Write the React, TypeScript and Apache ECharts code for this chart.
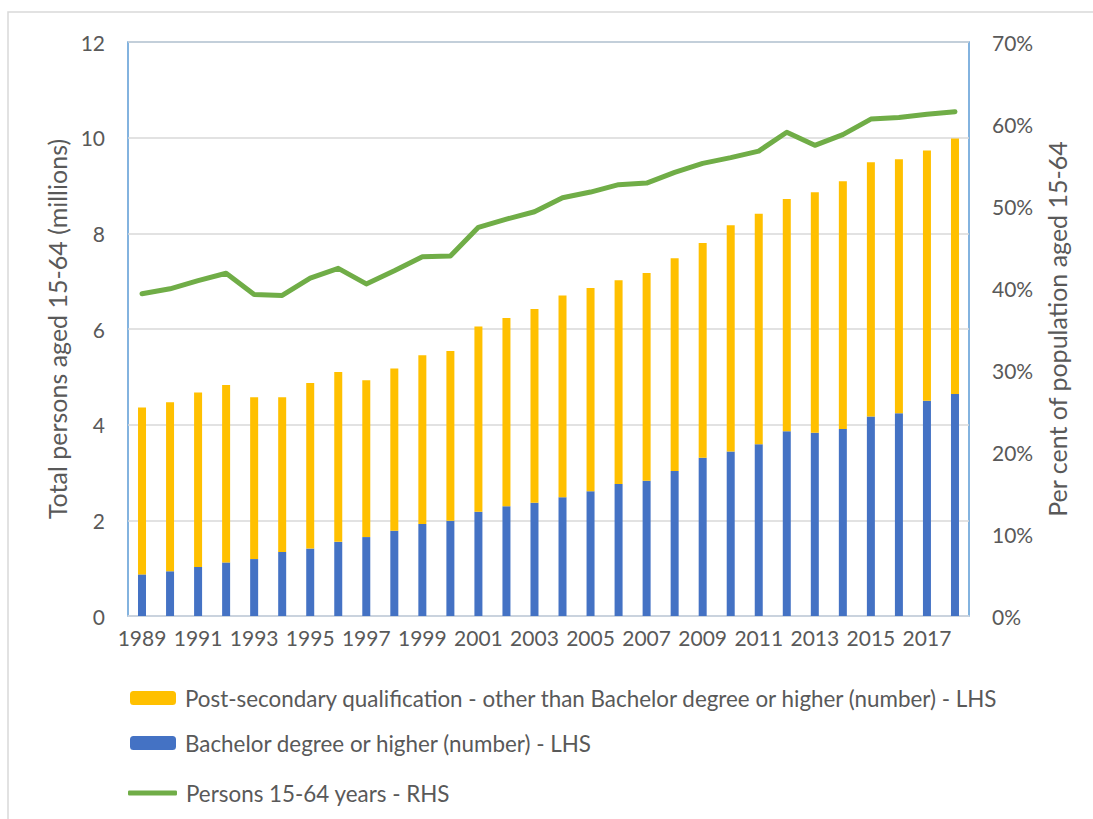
import React, { useEffect, useRef } from "react";
import * as echarts from "echarts";

const years = ["1989","1990","1991","1992","1993","1994","1995","1996","1997","1998","1999","2000","2001","2002","2003","2004","2005","2006","2007","2008","2009","2010","2011","2012","2013","2014","2015","2016","2017","2018"];

const bachelor = [0.87,0.935,1.025,1.12,1.19,1.34,1.41,1.55,1.65,1.78,1.925,1.99,2.18,2.295,2.365,2.48,2.61,2.76,2.83,3.03,3.31,3.44,3.59,3.86,3.83,3.91,4.17,4.24,4.5,4.64];

const postSecondary = [3.49,3.535,3.645,3.71,3.385,3.235,3.46,3.55,3.28,3.395,3.525,3.55,3.87,3.935,4.055,4.22,4.245,4.26,4.34,4.45,4.49,4.73,4.82,4.86,5.03,5.18,5.315,5.31,5.23,5.34];

const persons = [39.3,39.9,40.9,41.8,39.2,39.1,41.2,42.4,40.5,42.1,43.8,43.9,47.4,48.4,49.3,51.0,51.7,52.6,52.8,54.1,55.2,55.9,56.7,59.0,57.4,58.7,60.6,60.8,61.2,61.5];

const NAME_POST = "Post-secondary qualification - other than Bachelor degree or higher (number) - LHS";
const NAME_BACH = "Bachelor degree or higher (number) - LHS";
const NAME_PERS = "Persons 15-64 years - RHS";

const FONT = "Lato";
const TXT = "#595959";

export default function App() {
  const ref = useRef<HTMLDivElement>(null);
  useEffect(() => {
    if (!ref.current) return;
    const chart = echarts.init(ref.current, null, { renderer: "svg" });
    const legendCommon = {
      orient: "vertical",
      left: 125,
      itemWidth: 46,
      itemHeight: 14,
      itemGap: 10,
      textStyle: { fontFamily: FONT, fontSize: 22.4, color: TXT, lineHeight: 24, padding: [0, 0, 0, 4] },
      selectedMode: false,
    };
    chart.setOption({
      animation: false,
      backgroundColor: "#ffffff",
      textStyle: { fontFamily: FONT },
      graphic: [
        {
          type: "rect",
          shape: { x: 8, y: 12, width: 1200, height: 900 },
          style: { fill: "none", stroke: "#D9D9D9", lineWidth: 1.5 },
          silent: true,
        },
      ],
      grid: {
        left: 128,
        right: 124,
        top: 42,
        bottom: 203,
        show: true,
        borderColor: "#5B9BD5",
        borderWidth: 1.5,
        backgroundColor: "transparent",
      },
      legend: [
        { ...legendCommon, top: 681, data: [{ name: NAME_POST }] },
        { ...legendCommon, top: 726, data: [{ name: NAME_BACH }] },
        {
          ...legendCommon,
          top: 776,
          left: 123,
          itemWidth: 49,
          itemHeight: 5,
          data: [{ name: NAME_PERS, icon: "roundRect" }],
        },
      ],
      xAxis: {
        type: "category",
        data: years,
        axisTick: { show: false },
        axisLine: { lineStyle: { color: "#CDD5DF", width: 1.5 } },
        axisLabel: { interval: 1, color: TXT, fontFamily: FONT, fontSize: 21, margin: 11 },
      },
      yAxis: [
        {
          type: "value",
          min: 0,
          max: 12,
          interval: 2,
          axisLine: { show: false },
          axisTick: { show: false },
          splitLine: { lineStyle: { color: "#D9D9D9", width: 1.5 } },
          axisLabel: { color: TXT, fontFamily: FONT, fontSize: 21, margin: 23 },
          name: "Total persons aged 15-64 (millions)",
          nameLocation: "middle",
          nameRotate: 90,
          nameGap: 58,
          nameTextStyle: { color: TXT, fontFamily: FONT, fontSize: 25 },
        },
        {
          type: "value",
          min: 0,
          max: 70,
          interval: 10,
          axisLine: { show: false },
          axisTick: { show: false },
          splitLine: { show: false },
          axisLabel: { color: TXT, fontFamily: FONT, fontSize: 21, margin: 23, formatter: "{value}%" },
          name: "Per cent of population aged 15-64",
          nameLocation: "middle",
          nameRotate: 90,
          nameGap: 74,
          nameTextStyle: { color: TXT, fontFamily: FONT, fontSize: 25 },
        },
      ],
      series: [
        {
          name: NAME_BACH,
          type: "bar",
          stack: "total",
          barWidth: 8,
          data: bachelor,
          itemStyle: { color: "#4472C4" },
        },
        {
          name: NAME_POST,
          type: "bar",
          stack: "total",
          barWidth: 8,
          data: postSecondary,
          itemStyle: { color: "#FFC000" },
        },
        {
          name: NAME_PERS,
          type: "line",
          yAxisIndex: 1,
          data: persons,
          symbol: "none",
          itemStyle: { color: "#70AD47" },
          lineStyle: { color: "#70AD47", width: 5, cap: "round", join: "round" },
        },
      ],
    });
    return () => chart.dispose();
  }, []);
  return (
    <div
      ref={ref}
      style={{ position: "fixed", left: 0, top: 0, width: 1093, height: 819, background: "#fff" }}
    />
  );
}
